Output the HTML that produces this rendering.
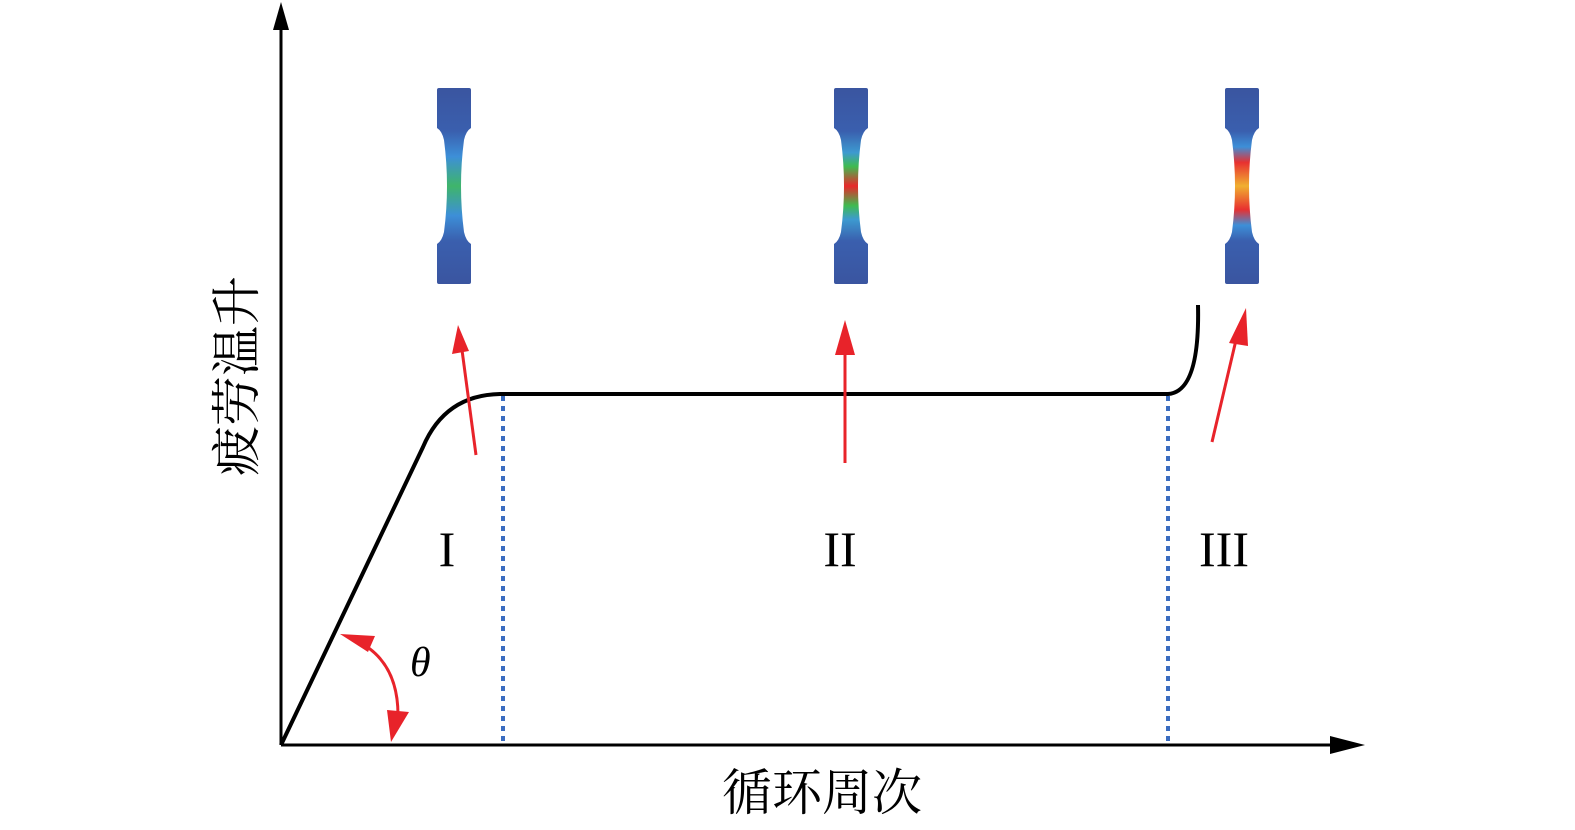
<!DOCTYPE html>
<html><head><meta charset="utf-8"><style>body{margin:0;background:#fff}svg{display:block}</style></head>
<body>
<svg width="1575" height="830" viewBox="0 0 1575 830" xmlns="http://www.w3.org/2000/svg">
<defs>
<marker id="ah" markerWidth="10" markerHeight="10" refX="5" refY="5" orient="auto" markerUnits="userSpaceOnUse" viewBox="0 0 10 10"><path d="M0,0 L10,5 L0,10 z" fill="#000"/></marker>
<linearGradient id="g1" x1="0" y1="0" x2="0" y2="1">
<stop offset="0" stop-color="#3a55a0"/><stop offset="0.22" stop-color="#3a5fae"/><stop offset="0.35" stop-color="#3d8fd8"/><stop offset="0.5" stop-color="#3fb56a"/><stop offset="0.65" stop-color="#3d8fd8"/><stop offset="0.78" stop-color="#3a5fae"/><stop offset="1" stop-color="#3a55a0"/></linearGradient>
<linearGradient id="g2" x1="0" y1="0" x2="0" y2="1">
<stop offset="0" stop-color="#3a55a0"/><stop offset="0.22" stop-color="#3a5fae"/><stop offset="0.33" stop-color="#3d9ad0"/><stop offset="0.4" stop-color="#3fbb50"/><stop offset="0.5" stop-color="#e8282a"/><stop offset="0.6" stop-color="#3fbb50"/><stop offset="0.67" stop-color="#3d9ad0"/><stop offset="0.78" stop-color="#3a5fae"/><stop offset="1" stop-color="#3a55a0"/></linearGradient>
<linearGradient id="g3" x1="0" y1="0" x2="0" y2="1">
<stop offset="0" stop-color="#3a55a0"/><stop offset="0.22" stop-color="#3a5fae"/><stop offset="0.3" stop-color="#3d8fd8"/><stop offset="0.38" stop-color="#e83030"/><stop offset="0.5" stop-color="#f0b030"/><stop offset="0.62" stop-color="#e83030"/><stop offset="0.7" stop-color="#3d8fd8"/><stop offset="0.78" stop-color="#3a5fae"/><stop offset="1" stop-color="#3a55a0"/></linearGradient>
</defs>
<!-- axes -->
<line x1="281" y1="745" x2="281" y2="28" stroke="#000" stroke-width="3"/>
<path d="M273,30 L281,2 L289,30 Z" fill="#000"/>
<line x1="281" y1="745" x2="1335" y2="745" stroke="#000" stroke-width="3"/>
<path d="M1330,736 L1365,745 L1330,754 Z" fill="#000"/>
<!-- curve -->
<path d="M281,745 L423,447 Q445,395 500,394 L1168,394 Q1200,392 1198,305" fill="none" stroke="#000" stroke-width="4"/>
<!-- dotted lines -->
<line x1="503" y1="396" x2="503" y2="745" stroke="#3a6cc0" stroke-width="4" stroke-dasharray="5,5"/>
<line x1="1168" y1="396" x2="1168" y2="745" stroke="#3a6cc0" stroke-width="4" stroke-dasharray="5,5"/>
<!-- red arrows -->
<line x1="476" y1="455" x2="462" y2="350" stroke="#e8232a" stroke-width="3"/>
<path d="M452,354 L458,325 L469,351 Z" fill="#e8232a"/>
<line x1="845" y1="463" x2="845" y2="350" stroke="#e8232a" stroke-width="3"/>
<path d="M835,355 L845,320 L855,355 Z" fill="#e8232a"/>
<line x1="1212" y1="442" x2="1236" y2="340" stroke="#e8232a" stroke-width="3"/>
<path d="M1229,343 L1246,308 L1248,346 Z" fill="#e8232a"/>
<!-- theta arc -->
<path d="M355,640 Q398,660 398,715" fill="none" stroke="#e8232a" stroke-width="3"/>
<path d="M340,634 L375,636 L368,652 Z" fill="#e8232a"/>
<path d="M387,710 L409,712 L391,742 Z" fill="#e8232a"/>
<text x="410" y="676" font-family="Liberation Serif, serif" font-style="italic" font-size="42">θ</text>
<!-- labels -->
<text x="447" y="566" font-family="Liberation Serif, serif" font-size="50" text-anchor="middle">I</text>
<text x="840" y="566" font-family="Liberation Serif, serif" font-size="50" text-anchor="middle">II</text>
<text x="1224" y="566" font-family="Liberation Serif, serif" font-size="50" text-anchor="middle">III</text>
<text x="822" y="810" font-family="'Noto Serif CJK SC','Liberation Serif',serif" font-size="50" text-anchor="middle">循环周次</text>
<text transform="translate(254,376) rotate(-90)" font-family="'Noto Serif CJK SC','Liberation Serif',serif" font-size="50" text-anchor="middle">疲劳温升</text>
<!-- specimens -->
<g id="sp">
<path d="M439,88 L469,88 Q471,88 471,90 L471,128 Q466,131 464,140 Q458,186 464,232 Q466,241 471,244 L471,282 Q471,284 469,284 L439,284 Q437,284 437,282 L437,244 Q442,241 444,232 Q450,186 444,140 Q442,131 437,128 L437,90 Q437,88 439,88 Z" fill="url(#g1)"/>
</g>
<path transform="translate(397,0)" d="M439,88 L469,88 Q471,88 471,90 L471,128 Q466,131 464,140 Q458,186 464,232 Q466,241 471,244 L471,282 Q471,284 469,284 L439,284 Q437,284 437,282 L437,244 Q442,241 444,232 Q450,186 444,140 Q442,131 437,128 L437,90 Q437,88 439,88 Z" fill="url(#g2)"/>
<path transform="translate(788,0)" d="M439,88 L469,88 Q471,88 471,90 L471,128 Q466,131 464,140 Q458,186 464,232 Q466,241 471,244 L471,282 Q471,284 469,284 L439,284 Q437,284 437,282 L437,244 Q442,241 444,232 Q450,186 444,140 Q442,131 437,128 L437,90 Q437,88 439,88 Z" fill="url(#g3)"/>
</svg>
</body></html>
